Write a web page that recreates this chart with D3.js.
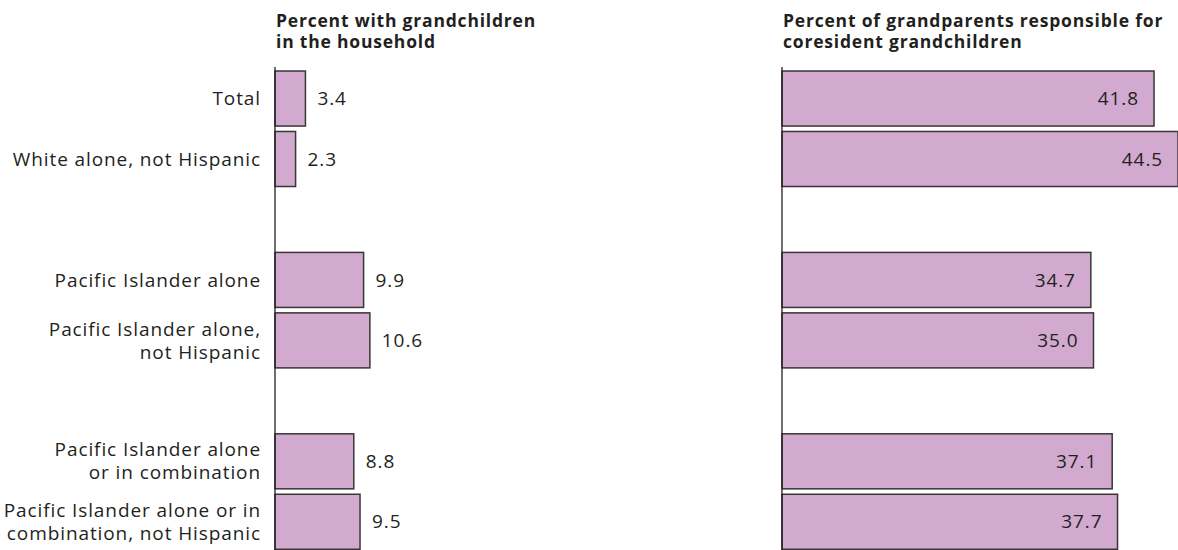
<!DOCTYPE html>
<html>
<head>
<meta charset="utf-8">
<script src="https://cdn.jsdelivr.net/npm/d3@7"></script>
<style>
  body { margin: 0; background: #fff; }
  text { font-family: "Open Sans", sans-serif; fill: #231f20; }
  .title { font-weight: bold; font-size: 17.5px; letter-spacing: 0.8px; }
</style>
</head>
<body>
<div id="chart"></div>
<script>
// rows, with blank slots used as group spacers
var rows = ["total", "white", "gap1", "pi", "piNH", "gap2", "pic", "picNH"];
var categories = ["total", "white", "pi", "piNH", "pic", "picNH"];
var labels = [
    ["Total"],
    ["White alone, not Hispanic"],
    ["Pacific Islander alone"],
    ["Pacific Islander alone,", "not Hispanic"],
    ["Pacific Islander alone", "or in combination"],
    ["Pacific Islander alone or in", "combination, not Hispanic"]
];
var withGrandchildren = [3.4, 2.3, 9.9, 10.6, 8.8, 9.5];
var responsible = [41.8, 44.5, 34.7, 35.0, 37.1, 37.7];
var titleLeft = ["Percent with grandchildren", "in the household"];
var titleRight = ["Percent of grandparents responsible for", "coresident grandchildren"];

var width = 1178;
var height = 550;

var svg = d3.select("#chart")
    .append("svg")
    .attr("width", width)
    .attr("height", height);

var y = d3.scaleBand()
    .domain(rows)
    .range([68.3, 552])
    .paddingInner(0.09)
    .paddingOuter(0.045);

var xLeft = d3.scaleLinear().domain([0, 10]).range([275, 364.5]);
var xRight = d3.scaleLinear().domain([0, 10]).range([782, 871]);

function panel(x, values, title, inside) {
    var g = svg.append("g");

    g.append("text")
        .attr("class", "title")
        .attr("x", x(0) + 1)
        .attr("y", 27)
        .selectAll("tspan")
        .data(title)
        .enter().append("tspan")
        .attr("x", x(0) + 1)
        .attr("dy", function(d, i) { return i ? 21 : 0; })
        .text(function(d) { return d; });

    g.selectAll("rect")
        .data(values)
        .enter().append("rect")
        .attr("x", x(0))
        .attr("y", function(d, i) { return y(categories[i]); })
        .attr("width", function(d) { return x(d) - x(0); })
        .attr("height", y.bandwidth())
        .attr("fill", "#d2aad0")
        .attr("stroke", "#3a3536")
        .attr("stroke-width", 1.5);

    g.append("line")
        .attr("x1", x(0)).attr("x2", x(0))
        .attr("y1", 67).attr("y2", height)
        .attr("stroke", "#231f20")
        .attr("stroke-width", 1.3);

    g.selectAll("text.value")
        .data(values)
        .enter().append("text")
        .attr("class", "value")
        .attr("x", function(d) { return inside ? x(d) - 15 : x(d) + 12; })
        .attr("y", function(d, i) { return y(categories[i]) + y.bandwidth() / 2; })
        .attr("dy", "0.35em")
        .attr("text-anchor", inside ? "end" : "start")
        .style("font-size", "19px")
        .style("letter-spacing", "0.9px")
        .text(function(d) { return d.toFixed(1); });
}

panel(xLeft, withGrandchildren, titleLeft, false);
panel(xRight, responsible, titleRight, true);

svg.append("g").selectAll("text")
    .data(labels)
    .enter().append("text")
    .attr("text-anchor", "end")
    .style("font-size", "19px")
    .style("letter-spacing", "0.9px")
    .attr("y", function(d, i) {
        return y(categories[i]) + y.bandwidth() / 2 - (d.length - 1) * 11.5;
    })
    .each(function(d) {
        d3.select(this).selectAll("tspan")
            .data(d)
            .enter().append("tspan")
            .attr("x", 261)
            .attr("dy", function(t, j) { return j ? 23 : "0.35em"; })
            .text(function(t) { return t; });
    });
</script>
</body>
</html>
